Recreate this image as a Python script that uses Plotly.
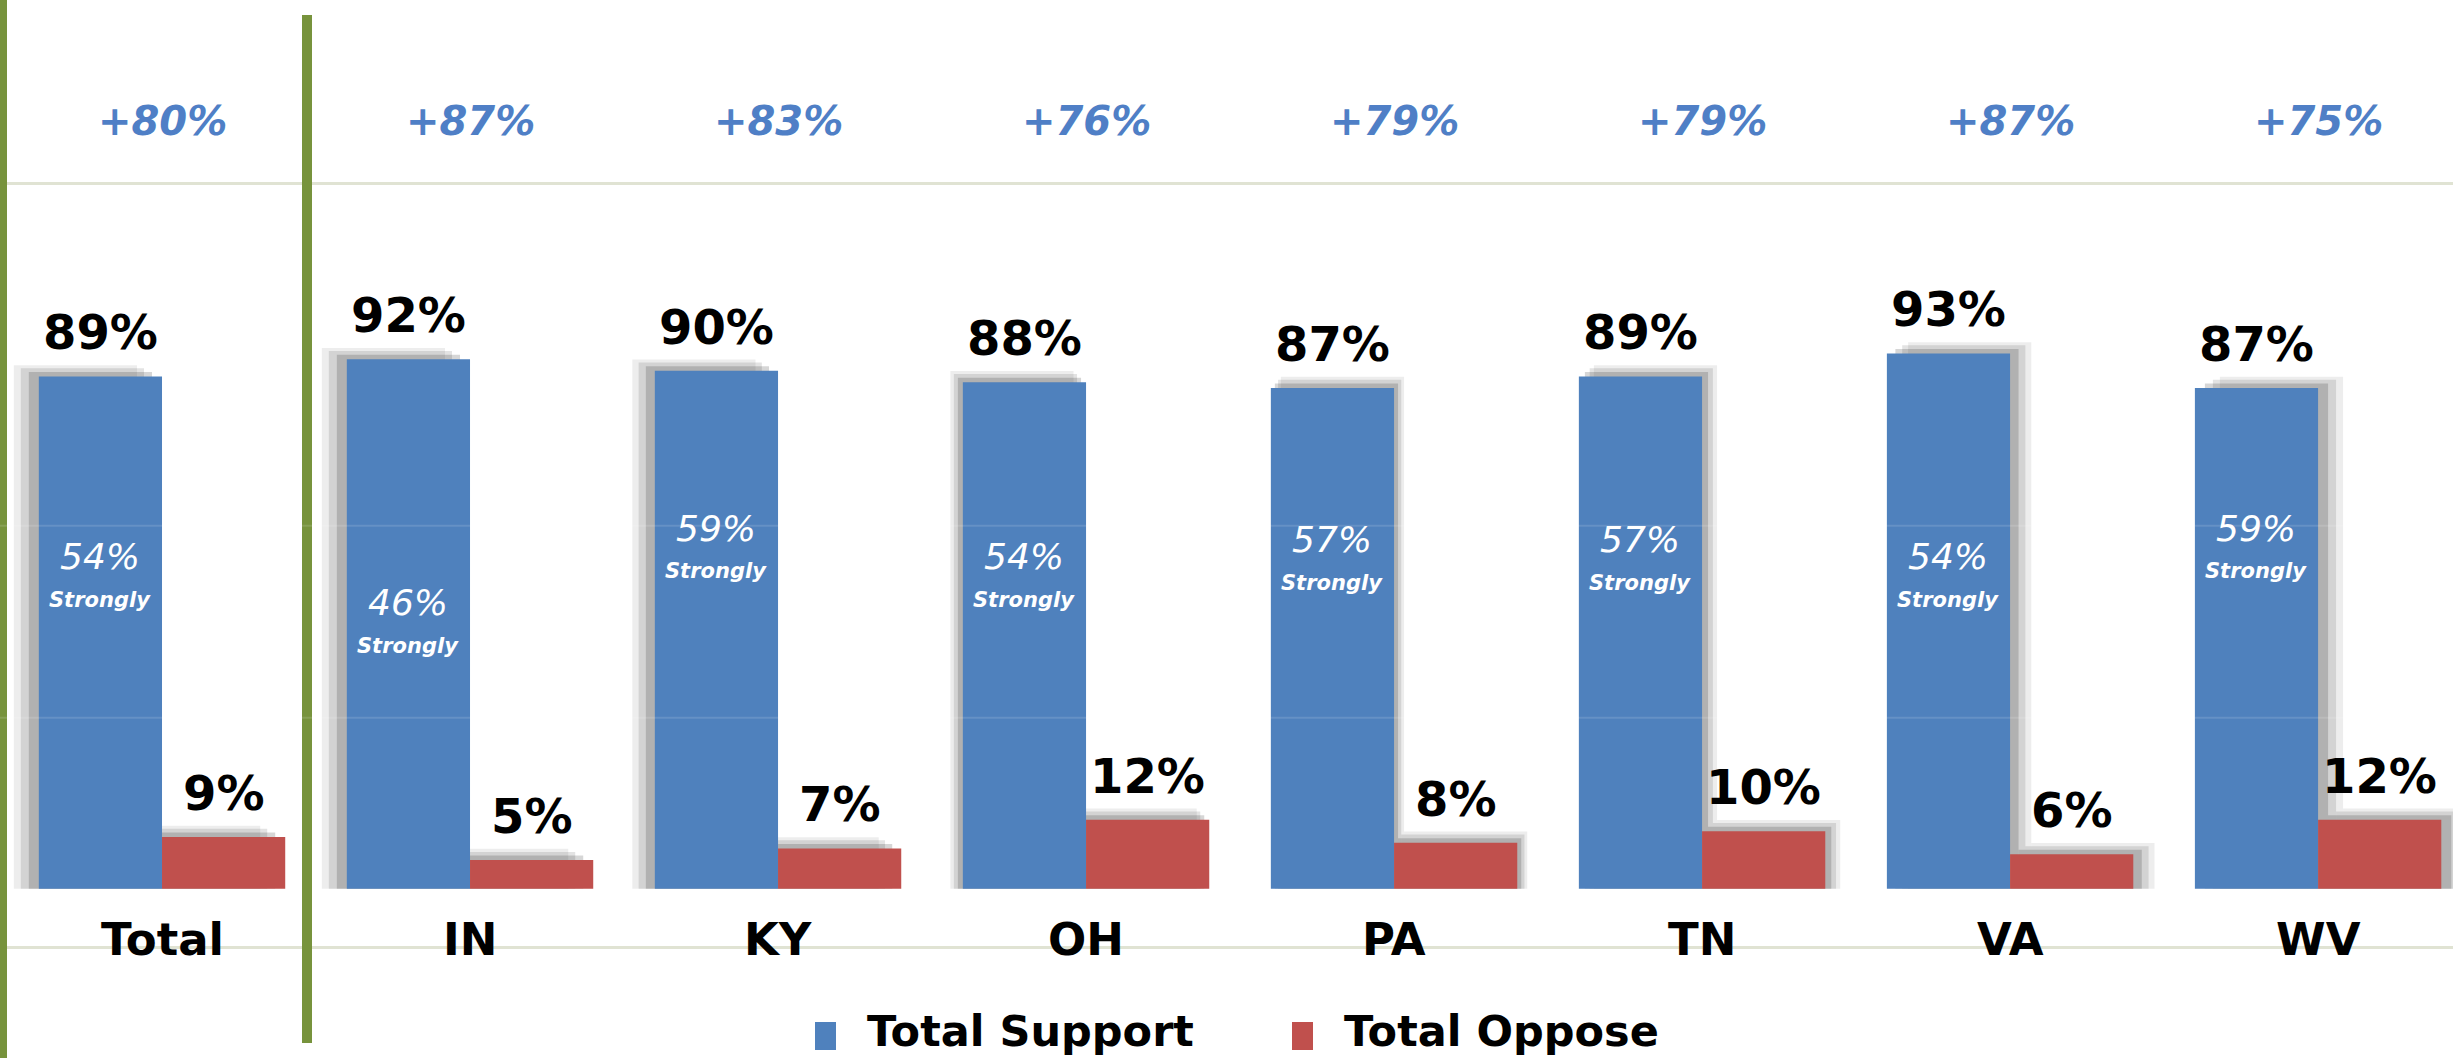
import plotly.graph_objects as go

# ---------------- data ----------------
categories = ["Total", "IN", "KY", "OH", "PA", "TN", "VA", "WV"]
total_support = [89, 92, 90, 88, 87, 89, 93, 87]
total_oppose = [9, 5, 7, 12, 8, 10, 6, 12]
strongly_support = [54, 46, 59, 54, 57, 57, 54, 59]
net_support = [80, 87, 83, 76, 79, 79, 87, 75]
series_names = ["Total Support", "Total Oppose"]

# ---------------- style ----------------
W, H = 2453, 1058
BLUE = "#4f81bd"
RED = "#c0504d"
GREEN = "#77933c"
GRID = "#e0e3d3"
NET_BLUE = "#4f7fc6"
FONT = "DejaVu Sans"
BAR_W = 0.40
X_RANGE = [-0.526, 7.438]
Y_RANGE = [-29.4, 154.4]
SEPARATOR_X_PX = 307
# perspective shadow shift per category (pixels)
shadow_px = [-20, -20, -18, -10, 8, 12, 17, 20]
px_per_cat = W / (X_RANGE[1] - X_RANGE[0])
px_per_pct = H / (Y_RANGE[1] - Y_RANGE[0])
shadow_dx = [p / px_per_cat for p in shadow_px]
shadow_dy = 9 / px_per_pct
shadow_layers = [(1.25, 0.07), (0.9, 0.11), (0.5, 0.16)]

fig = go.Figure()

# soft shadows (drawn first, behind the bars)
for vals, base_off in [(total_support, -BAR_W), (total_oppose, 0.0)]:
    for k, alpha in shadow_layers:
        fig.add_trace(go.Bar(
            x=categories, y=[v + shadow_dy * k for v in vals],
            offset=[base_off + d * k for d in shadow_dx], width=BAR_W,
            marker=dict(color=f"rgba(0,0,0,{alpha})", line=dict(width=0)),
            showlegend=False, hoverinfo="skip"))

# main bars
fig.add_trace(go.Bar(
    name=series_names[0], x=categories, y=total_support,
    offset=-BAR_W, width=BAR_W,
    marker=dict(color=BLUE, line=dict(width=0)), showlegend=False))
fig.add_trace(go.Bar(
    name=series_names[1], x=categories, y=total_oppose,
    offset=0.0, width=BAR_W,
    marker=dict(color=RED, line=dict(width=0)), showlegend=False))

annotations = []
for i, cat in enumerate(categories):
    # net label on top
    annotations.append(dict(
        x=i, y=1 - 121 / H, xref="x", yref="paper", xanchor="center", yanchor="middle",
        text=f"<b><i>+{net_support[i]}%</i></b>", showarrow=False,
        font=dict(family=FONT, size=40, color=NET_BLUE)))
    # support value
    annotations.append(dict(
        x=i - BAR_W / 2, y=total_support[i], xref="x", yref="y",
        xanchor="center", yanchor="bottom", yshift=14,
        text=f"<b>{total_support[i]}%</b>", showarrow=False,
        font=dict(family=FONT, size=48, color="#000000")))
    # oppose value
    annotations.append(dict(
        x=i + BAR_W / 2, y=total_oppose[i], xref="x", yref="y",
        xanchor="center", yanchor="bottom", yshift=14,
        text=f"<b>{total_oppose[i]}%</b>", showarrow=False,
        font=dict(family=FONT, size=48, color="#000000")))
    # strongly label inside support bar
    annotations.append(dict(
        x=i - BAR_W / 2, y=strongly_support[i], xref="x", yref="y",
        xanchor="center", yanchor="middle", yshift=21,
        text=f"<i>{strongly_support[i]}%</i>", showarrow=False,
        font=dict(family=FONT, size=36, color="#ffffff")))
    annotations.append(dict(
        x=i - BAR_W / 2, y=strongly_support[i], xref="x", yref="y",
        xanchor="center", yanchor="middle", yshift=-22,
        text="<b><i>Strongly</i></b>", showarrow=False,
        font=dict(family=FONT, size=21, color="#ffffff")))
    # category label
    annotations.append(dict(
        x=i, y=1 - 939 / H, xref="x", yref="paper", xanchor="center", yanchor="middle",
        text=f"<b>{cat}</b>", showarrow=False,
        font=dict(family=FONT, size=45, color="#000000")))

# manual legend
legend_items = [(series_names[0], BLUE, 815), (series_names[1], RED, 1292)]
shapes = []
for name, col, x0 in legend_items:
    shapes.append(dict(type="rect", xref="paper", yref="paper",
                       x0=x0 / W, x1=(x0 + 21) / W, y0=1 - 1050 / H, y1=1 - 1022 / H,
                       fillcolor=col, line=dict(width=0), layer="above"))
    annotations.append(dict(
        x=(x0 + 50) / W, y=0, xref="paper", yref="paper",
        xanchor="left", yanchor="bottom", yshift=0, text=f"<b>{name}</b>", showarrow=False,
        font=dict(family=FONT, size=43, color="#000000")))

# green separator lines
shapes.append(dict(type="line", xref="paper", yref="paper", x0=3.5 / W, x1=3.5 / W,
                   y0=0, y1=1, line=dict(color=GREEN, width=7), layer="above"))
shapes.append(dict(type="line", xref="paper", yref="paper",
                   x0=SEPARATOR_X_PX / W, x1=SEPARATOR_X_PX / W,
                   y0=1 - 1043 / H, y1=1 - 15 / H, line=dict(color=GREEN, width=10), layer="above"))
# faint lines crossing bars
for yv in [63.05, 29.7]:
    shapes.append(dict(type="line", xref="paper", yref="y", x0=0, x1=1, y0=yv, y1=yv,
                       line=dict(color="rgba(255,255,255,0.13)", width=2), layer="above"))

fig.update_layout(
    width=W, height=H, autosize=False,
    margin=dict(l=0, r=0, t=0, b=0, pad=0),
    paper_bgcolor="#ffffff", plot_bgcolor="#ffffff",
    barmode="overlay", showlegend=False,
    xaxis=dict(type="category", range=X_RANGE, showgrid=False, zeroline=False,
               showticklabels=False, ticks="", showline=False, fixedrange=True),
    yaxis=dict(range=Y_RANGE, tickvals=[-10.25, 122.6], showticklabels=False,
               showgrid=True, gridcolor=GRID, gridwidth=3, zeroline=False,
               ticks="", showline=False, fixedrange=True),
    annotations=annotations, shapes=shapes,
)

fig.write_html("out.html", config={"displayModeBar": False},
               post_script="document.body.style.margin='0';document.body.style.overflow='hidden';")
